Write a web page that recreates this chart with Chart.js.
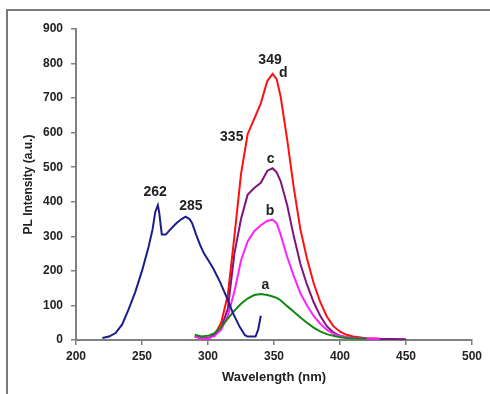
<!DOCTYPE html>
<html>
<head>
<meta charset="utf-8">
<script src="https://cdn.jsdelivr.net/npm/chart.js@4.4.1/dist/chart.umd.min.js"></script>
<style>
  html, body { margin: 0; padding: 0; background: #fff; }
  #wrap { position: relative; width: 490px; height: 394px; overflow: hidden; }
  #frame { position: absolute; left: 6px; top: 9px; right: -4px; bottom: -4px;
           border-top: 2px solid #7a7a7a; border-left: 2px solid #7a7a7a; pointer-events: none; }
</style>
</head>
<body>
<div id="wrap">
  <canvas id="canvas" width="490" height="394"></canvas>
  <div id="frame"></div>
</div>
<script>
// excitation spectrum (blue)
const exNm  = [220, 225, 230, 235, 240, 245, 250, 255, 258, 260, 262, 263, 265, 268, 271, 276, 280, 283, 286, 288, 291, 294, 297, 300, 304, 309, 314, 319, 324, 328, 330, 336, 338, 340];
const exVal = [6, 10, 20, 45, 90, 140, 200, 270, 320, 370, 390, 370, 305, 305, 318, 338, 350, 357, 350, 338, 305, 275, 250, 232, 207, 169, 125, 77, 38, 14, 10, 10, 30, 70];

// emission spectra
const emNm = [290, 295, 300, 305, 310, 315, 320, 325, 330, 335, 340, 345, 349, 352, 355, 360, 365, 370, 375, 380, 385, 390, 395, 400, 405, 410, 420, 430, 440, 450];
const aVal = [15, 10, 12, 20, 38, 62, 85, 105, 120, 130, 133, 130, 126, 122, 115, 98, 82, 65, 50, 36, 25, 17, 12, 8, 6, 5, 4];
const bVal = [10, 4, 4, 12, 30, 70, 140, 230, 285, 315, 332, 345, 348, 338, 305, 240, 185, 135, 100, 70, 47, 30, 18, 12, 8, 6, 4, 3];
const cVal = [10, 5, 5, 15, 35, 90, 250, 350, 420, 440, 455, 490, 497, 485, 460, 390, 300, 220, 160, 110, 70, 40, 22, 12, 8, 6, 4, 3, 3, 2];
const dVal = [12, 6, 5, 15, 50, 130, 300, 480, 595, 640, 685, 750, 770, 755, 705, 580, 440, 320, 235, 165, 110, 68, 40, 24, 15, 10, 5, 4];

const xTicks = [200, 250, 300, 350, 400, 450, 500];
const yTicks = [0, 100, 200, 300, 400, 500, 600, 700, 800, 900];

// peak / curve labels
const noteText = ['262', '285', '335', '349', 'd', 'c', 'b', 'a'];
const noteNm   = [260, 287, 318, 347, 357, 347.5, 347, 343.5];
const noteVal  = [428, 386, 587, 810, 773, 523, 374, 159];

const pts = (xs, ys) => ys.map((y, i) => ({ x: xs[i], y: y }));

const series = [
    { data: pts(exNm, exVal), color: '#1c1c8a' },
    { data: pts(emNm, aVal), color: '#118811' },
    { data: pts(emNm, bVal), color: '#ff22ff' },
    { data: pts(emNm, cVal), color: '#80147f' },
    { data: pts(emNm, dVal), color: '#ff1010' },
];

const notes = {
    id: 'notes',
    afterDatasetsDraw(chart) {
        const ctx = chart.ctx;
        const xs = chart.scales.x, ys = chart.scales.y;
        ctx.save();
        ctx.font = 'bold 14px "Liberation Sans", Arial, sans-serif';
        ctx.fillStyle = '#222';
        ctx.textAlign = 'center';
        ctx.textBaseline = 'middle';
        noteText.forEach((t, i) => {
            ctx.fillText(t, xs.getPixelForValue(noteNm[i]), ys.getPixelForValue(noteVal[i]));
        });
        ctx.restore();
    }
};

const tickFont = { family: '"Liberation Sans", Arial, sans-serif', size: 12, weight: 'bold' };

new Chart(document.getElementById('canvas').getContext('2d'), {
    type: 'line',
    data: {
        datasets: series.map(s => ({
            data: s.data,
            borderColor: s.color,
            borderWidth: 2,
            pointRadius: 0,
            tension: 0,
            fill: false,
        })),
    },
    options: {
        responsive: false,
        animation: false,
        layout: { padding: { left: 0, top: 29, right: 18, bottom: 0 } },
        plugins: { legend: { display: false }, tooltip: { enabled: false } },
        scales: {
            x: {
                type: 'linear',
                min: 200, max: 500,
                afterBuildTicks: s => { s.ticks = xTicks.map(v => ({ value: v })); },
                afterFit: s => { s.height = 54; },
                grid: { display: true, drawOnChartArea: false, tickLength: 5, color: '#808080', lineWidth: 1.5 },
                border: { color: '#808080', width: 2 },
                ticks: { font: tickFont, color: '#222', padding: 4, maxRotation: 0 },
                title: {
                    display: true, text: 'Wavelength (nm)', color: '#222',
                    font: { family: '"Liberation Sans", Arial, sans-serif', size: 13, weight: 'bold' },
                    padding: { top: 0, bottom: 9 },
                },
            },
            y: {
                min: 0, max: 900,
                afterBuildTicks: s => { s.ticks = yTicks.map(v => ({ value: v })); },
                afterFit: s => { s.width = 76; },
                grid: { display: true, drawOnChartArea: false, tickLength: 5, color: '#808080', lineWidth: 1.5 },
                border: { color: '#808080', width: 2 },
                ticks: { font: tickFont, color: '#222', padding: 8 },
                title: {
                    display: true, text: 'PL Intensity (a.u.)', color: '#222',
                    font: { family: '"Liberation Sans", Arial, sans-serif', size: 12, weight: 'bold' },
                    padding: { top: 21, bottom: 0 },
                },
            },
        },
    },
    plugins: [notes],
});
</script>
</body>
</html>
